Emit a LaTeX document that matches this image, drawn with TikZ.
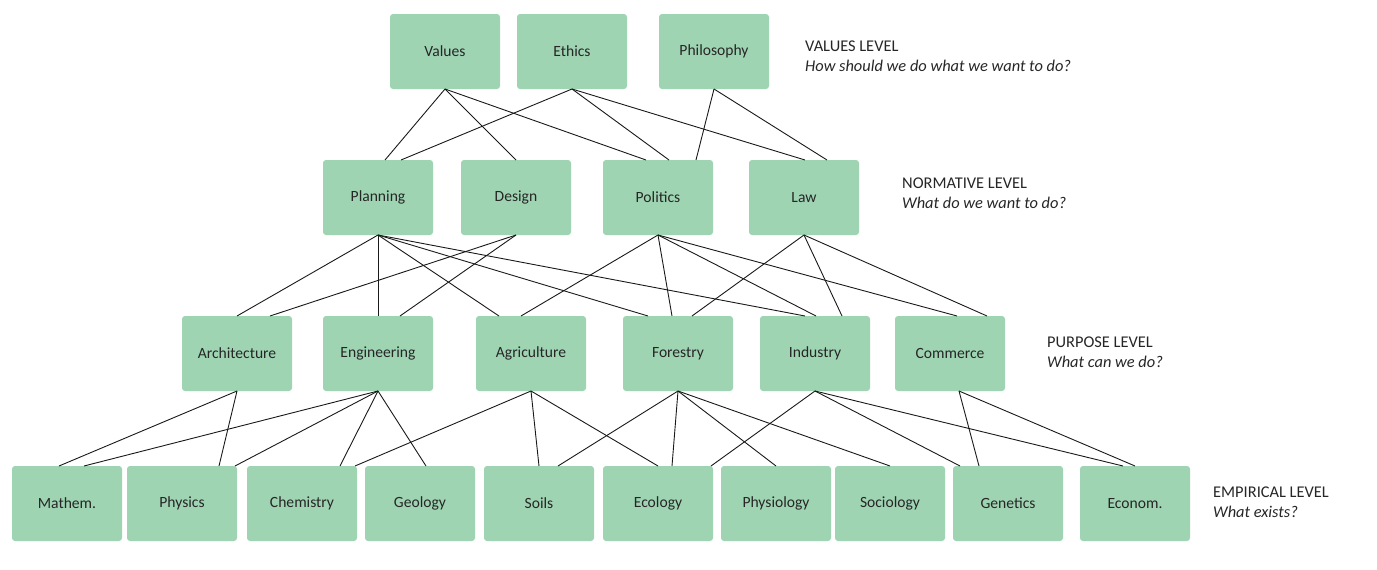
\documentclass[tikz,border=0pt]{standalone}
\usepackage{fontspec}
\setmainfont{Carlito}
\usepackage{tikz}
\definecolor{boxgreen}{HTML}{9FD4B3}
\definecolor{boxtext}{HTML}{262626}
\tikzset{
    levelbox/.style = {
        align=center,
        text centered,
        rectangle,
        rounded corners=3pt,
        fill=boxgreen,
        draw=none,
        minimum width=110pt,
        minimum height=75pt,
        inner sep=0pt,
        outer sep=0pt,
        text=boxtext,
        font=\fontsize{15.6}{18}\selectfont
    },
    leveltitle/.style = {
        align=left,
        anchor=west,
        inner sep=0pt,
        text=boxtext,
        font=\fontsize{16.4}{20}\selectfont
    },
    link/.style = {
        draw=black!90,
        line width=0.9pt
    }
}

\begin{document}
\begin{tikzpicture}[x=1pt, y=-1pt]
            \useasboundingbox (0,0) rectangle (1377,570);

            \node [levelbox] (values)     at (445,51.5) {Values};
            \node [levelbox] (ethics)     at (572,51.5) {Ethics};
            \node [levelbox] (philosophy) at (714,51.5) {Philosophy};

            \node [levelbox] (planning) at (378,197.5) {Planning};
            \node [levelbox] (design)   at (516,197.5) {Design};
            \node [levelbox] (politics) at (658,197.5) {Politics};
            \node [levelbox] (law)      at (804,197.5) {Law};

            \node [levelbox] (architecture) at (237,353.5) {Architecture};
            \node [levelbox] (engineering)  at (378,353.5) {Engineering};
            \node [levelbox] (agriculture)  at (531,353.5) {Agriculture};
            \node [levelbox] (forestry)     at (678,353.5) {Forestry};
            \node [levelbox] (industry)     at (815,353.5) {Industry};
            \node [levelbox] (commerce)     at (950,353.5) {Commerce};

            \node [levelbox] (mathem)     at (67,503.5)   {Mathem.};
            \node [levelbox] (physics)    at (182,503.5)  {Physics};
            \node [levelbox] (chemistry)  at (302,503.5)  {Chemistry};
            \node [levelbox] (geology)    at (420,503.5)  {Geology};
            \node [levelbox] (soils)      at (539,503.5)  {Soils};
            \node [levelbox] (ecology)    at (658,503.5)  {Ecology};
            \node [levelbox] (physiology) at (776,503.5)  {Physiology};
            \node [levelbox] (sociology)  at (890,503.5)  {Sociology};
            \node [levelbox] (genetics)   at (1008,503.5) {Genetics};
            \node [levelbox] (econom)     at (1135,503.5) {Econom.};

            \node [leveltitle] (valueslevel)    at (805,56)   {VALUES LEVEL\\\textit{How should we do what we want to do?}};
            \node [leveltitle] (normativelevel) at (902,193)  {NORMATIVE LEVEL\\\textit{What do we want to do?}};
            \node [leveltitle] (purposelevel)   at (1047,352) {PURPOSE LEVEL\\\textit{What can we do?}};
            \node [leveltitle] (empiricallevel) at (1213,502) {EMPIRICAL LEVEL\\\textit{What exists?}};

            \draw [link] (values.south) -- ([xshift=7pt]planning.north);
            \draw [link] (values.south) -- (design.north);
            \draw [link] (values.south) -- ([xshift=-12pt]politics.north);
            \draw [link] (ethics.south) -- ([xshift=23pt]planning.north);
            \draw [link] (ethics.south) -- ([xshift=11pt]politics.north);
            \draw [link] (ethics.south) -- ([xshift=1pt]law.north);
            \draw [link] (philosophy.south) -- ([xshift=38pt]politics.north);
            \draw [link] (philosophy.south) -- ([xshift=23pt]law.north);

            \draw [link] (planning.south) -- (architecture.north);
            \draw [link] (planning.south) -- (engineering.north);
            \draw [link] (planning.south) -- ([xshift=-32pt]agriculture.north);
            \draw [link] (planning.south) -- ([xshift=-30pt]forestry.north);
            \draw [link] (planning.south) -- ([xshift=-10pt]industry.north);
            \draw [link] (design.south) -- ([xshift=33pt]architecture.north);
            \draw [link] (design.south) -- ([xshift=22pt]engineering.north);
            \draw [link] (politics.south) -- ([xshift=-10pt]agriculture.north);
            \draw [link] (politics.south) -- ([xshift=-6pt]forestry.north);
            \draw [link] (politics.south) -- ([xshift=1pt]industry.north);
            \draw [link] (politics.south) -- ([xshift=7pt]commerce.north);
            \draw [link] (law.south) -- ([xshift=14pt]forestry.north);
            \draw [link] (law.south) -- ([xshift=27pt]industry.north);
            \draw [link] (law.south) -- ([xshift=37pt]commerce.north);

            \draw [link] (architecture.south) -- ([xshift=-8pt]mathem.north);
            \draw [link] (architecture.south) -- ([xshift=37pt]physics.north);
            \draw [link] (engineering.south) -- ([xshift=17pt]mathem.north);
            \draw [link] (engineering.south) -- ([xshift=53pt]physics.north);
            \draw [link] (engineering.south) -- ([xshift=38pt]chemistry.north);
            \draw [link] (engineering.south) -- ([xshift=6pt]geology.north);
            \draw [link] (agriculture.south) -- ([xshift=53pt]chemistry.north);
            \draw [link] (agriculture.south) -- (soils.north);
            \draw [link] (agriculture.south) -- (ecology.north);
            \draw [link] (forestry.south) -- ([xshift=19pt]soils.north);
            \draw [link] (forestry.south) -- ([xshift=14pt]ecology.north);
            \draw [link] (forestry.south) -- (physiology.north);
            \draw [link] (forestry.south) -- (sociology.north);
            \draw [link] (industry.south) -- ([xshift=53pt]ecology.north);
            \draw [link] (industry.south) -- ([xshift=-48pt]genetics.north);
            \draw [link] (industry.south) -- ([xshift=-12pt]econom.north);
            \draw [link] ([xshift=9pt]commerce.south) -- ([xshift=-29pt]genetics.north);
            \draw [link] ([xshift=9pt]commerce.south) -- (econom.north);
\end{tikzpicture}
\end{document}
